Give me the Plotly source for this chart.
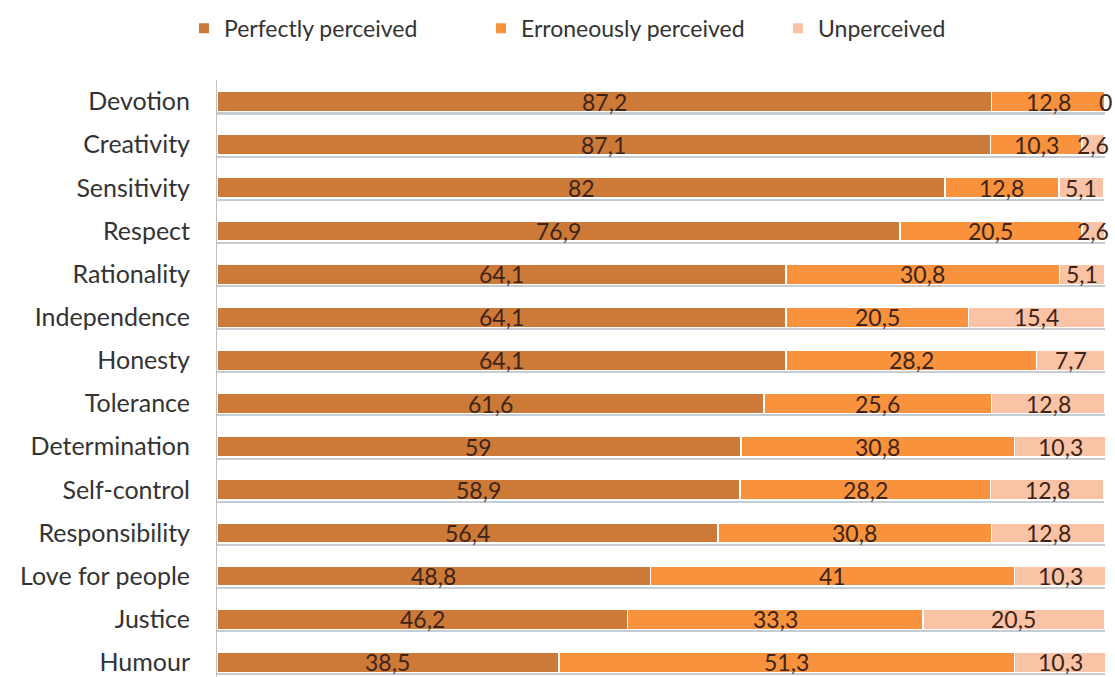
import plotly.graph_objects as go

# Values (%) per trait, top to bottom
categories = ["Devotion", "Creativity", "Sensitivity", "Respect", "Rationality",
              "Independence", "Honesty", "Tolerance", "Determination", "Self-control",
              "Responsibility", "Love for people", "Justice", "Humour"]
perfectly = [87.2, 87.1, 82, 76.9, 64.1, 64.1, 64.1, 61.6, 59, 58.9, 56.4, 48.8, 46.2, 38.5]
erroneously = [12.8, 10.3, 12.8, 20.5, 30.8, 20.5, 28.2, 25.6, 30.8, 28.2, 30.8, 41, 33.3, 51.3]
unperceived = [0, 2.6, 5.1, 2.6, 5.1, 15.4, 7.7, 12.8, 10.3, 12.8, 12.8, 10.3, 20.5, 10.3]

series = [
    ("Perfectly perceived", perfectly, "#CD7A38"),
    ("Erroneously perceived", erroneously, "#F8923C"),
    ("Unperceived", unperceived, "#FAC3A6"),
]

FONT = "Lato"
TEXT_COLOR = "#3d2418"


def fmt(v):
    return ("%g" % v).replace(".", ",")


fig = go.Figure()

# soft shadow beneath each bar (drawn on the base axis, below the bars)
totals = [a + b + c for a, b, c in zip(perfectly, erroneously, unperceived)]
fig.add_trace(go.Bar(
    y=categories, x=totals, orientation="h",
    marker=dict(color="rgba(130,140,155,0.45)", line=dict(width=0)),
    width=0.47, offset=-0.17, yaxis="y",
    showlegend=False, hoverinfo="skip",
))

for name, vals, color in series:
    fig.add_trace(go.Bar(
        y=categories, x=vals, name=name, orientation="h",
        marker=dict(color=color, line=dict(color="white", width=1.5)),
        width=0.47, yaxis="y2",
    ))

# value labels centred in each segment
annotations = []
for i, cat in enumerate(categories):
    start = 0.0
    for name, vals, color in series:
        v = vals[i]
        annotations.append(dict(
            x=start + v / 2, y=cat, xref="x", yref="y2",
            text=fmt(v), showarrow=False,
            font=dict(family=FONT, size=23, color=TEXT_COLOR),
            xanchor="center", yanchor="middle",
        ))
        start += v

yrange = [13.34, -0.5]
fig.update_layout(
    barmode="stack",
    width=1115, height=677,
    margin=dict(l=217, r=10, t=80, b=0),
    paper_bgcolor="white", plot_bgcolor="white",
    font=dict(family=FONT, size=18, color="#333333"),
    annotations=annotations,
    legend=dict(
        orientation="h", xref="container", x=0.165, xanchor="left",
        y=0.99, yanchor="top", yref="container",
        font=dict(family=FONT, size=23, color="#333333"),
        itemwidth=30, traceorder="normal", itemsizing="constant",
        entrywidth=252, entrywidthmode="pixels",
    ),
    xaxis=dict(range=[0, 100], showgrid=False, zeroline=False, showticklabels=False,
               ticks="", fixedrange=True),
    yaxis=dict(categoryorder="array", categoryarray=categories, range=yrange,
               showgrid=False, zeroline=False, showline=True, linecolor="#bfbfbf",
               linewidth=1, ticks="", ticklabelstandoff=21,
               tickfont=dict(family=FONT, size=25, color="#333333")),
    yaxis2=dict(categoryorder="array", categoryarray=categories, range=yrange,
                overlaying="y", showgrid=False, zeroline=False, showticklabels=False,
                showline=False, ticks=""),
)

fig.write_html("out.html")
